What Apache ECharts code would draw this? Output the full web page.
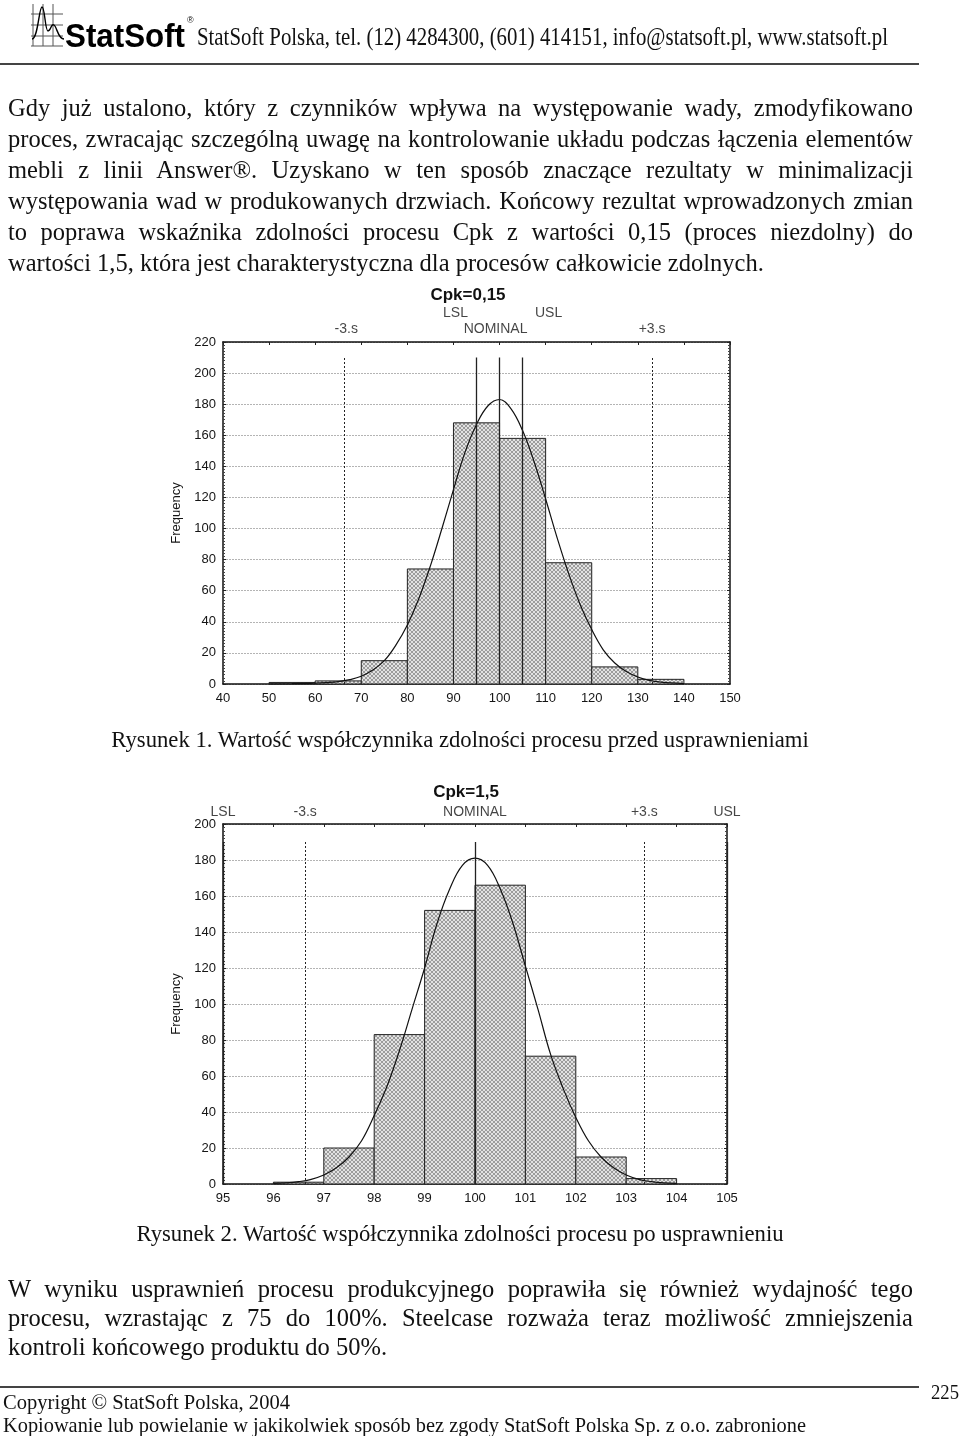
<!DOCTYPE html>
<html>
<head>
<meta charset="utf-8">
<script src="https://cdn.jsdelivr.net/npm/echarts@6.0.0/dist/echarts.min.js"></script>
<style>
html,body{margin:0;padding:0;background:#fff;}
#page{position:relative;width:960px;height:1436px;overflow:hidden;background:#fff;}
#chart{position:absolute;left:0;top:0;width:960px;height:1436px;}
.t{position:absolute;font-family:"Liberation Serif","Times New Roman",serif;color:#111;white-space:nowrap;z-index:2;}
.ln{position:absolute;left:8px;width:905px;font-family:"Liberation Serif","Times New Roman",serif;font-size:24.5px;line-height:30px;height:30px;color:#111;z-index:2;white-space:nowrap;}
.ln.j{text-align:justify;text-align-last:justify;white-space:normal;}
.cap{position:absolute;left:0;width:920px;text-align:center;font-family:"Liberation Serif","Times New Roman",serif;font-size:22.7px;line-height:30px;color:#111;z-index:2;}
.fit{transform-origin:0 0;}
.rule{position:absolute;left:0;width:919px;height:2px;background:#444;z-index:2;}
</style>
</head>
<body>
<div id="page">
  <div id="chart"></div>

  <!-- header -->
  <svg style="position:absolute;left:31px;top:3px;z-index:2" width="34" height="44" viewBox="0 0 34 44">
    <g stroke="#555" stroke-width="1" fill="none">
      <line x1="2" y1="1" x2="2" y2="43"/>
      <line x1="12" y1="1" x2="12" y2="43"/>
      <line x1="22" y1="1" x2="22" y2="43"/>
      <line x1="0" y1="11" x2="32" y2="11"/>
      <line x1="0" y1="22" x2="32" y2="22"/>
      <line x1="0" y1="33" x2="32" y2="33"/>
      <line x1="0" y1="43" x2="32" y2="43"/>
    </g>
    <path d="M1 36 C7 36, 8 4, 11 4 C14 4, 14 28, 17 28 C20 28, 20 20, 23 22 C26 24, 27 36, 33 36" fill="none" stroke="#000" stroke-width="1.4"/>
  </svg>
  <div id="brand" class="t fit" style="left:65px;top:18px;font-family:'Liberation Sans',Arial,sans-serif;font-weight:bold;font-size:34px;line-height:34px;color:#000;" data-w="120">StatSoft</div>
  <div class="t" style="left:187px;top:16px;font-family:'Liberation Sans',Arial,sans-serif;font-size:9px;line-height:9px;">®</div>
  <div id="htext" class="t fit" style="left:197px;top:24px;font-size:25px;line-height:25px;" data-w="691">StatSoft Polska, tel. (12) 4284300, (601) 414151, info@statsoft.pl, www.statsoft.pl</div>
  <div class="rule" style="top:63px;"></div>

  <!-- paragraph 1 -->
  <div class="ln j" style="top:93px;">Gdy już ustalono, który z czynników wpływa na występowanie wady, zmodyfikowano</div>
  <div class="ln j" style="top:124px;">proces, zwracając szczególną uwagę na kontrolowanie układu podczas łączenia elementów</div>
  <div class="ln j" style="top:155px;">mebli z linii Answer®. Uzyskano w ten sposób znaczące rezultaty w minimalizacji</div>
  <div class="ln j" style="top:186px;">występowania wad w produkowanych drzwiach. Końcowy rezultat wprowadzonych zmian</div>
  <div class="ln j" style="top:217px;">to poprawa wskaźnika zdolności procesu Cpk z wartości 0,15 (proces niezdolny) do</div>
  <div class="ln" style="top:248px;">wartości 1,5, która jest charakterystyczna dla procesów całkowicie zdolnych.</div>

  <div class="cap" style="top:725px;">Rysunek 1. Wartość współczynnika zdolności procesu przed usprawnieniami</div>
  <div class="cap" style="top:1219px;">Rysunek 2. Wartość współczynnika zdolności procesu po usprawnieniu</div>

  <!-- paragraph 2 -->
  <div class="ln j" style="top:1274px;">W wyniku usprawnień procesu produkcyjnego poprawiła się również wydajność tego</div>
  <div class="ln j" style="top:1303px;">procesu, wzrastając z 75 do 100%. Steelcase rozważa teraz możliwość zmniejszenia</div>
  <div class="ln" style="top:1332px;">kontroli końcowego produktu do 50%.</div>

  <!-- footer -->
  <div class="rule" style="top:1386px;"></div>
  <div class="t fit" style="left:931px;top:1381px;font-size:22px;line-height:22px;" data-w="28">225</div>
  <div class="t fit" style="left:3px;top:1391px;font-size:22px;line-height:22px;" data-w="287">Copyright © StatSoft Polska, 2004</div>
  <div class="t fit" style="left:3px;top:1414px;font-size:22px;line-height:22px;" data-w="803">Kopiowanie lub powielanie w jakikolwiek sposób bez zgody StatSoft Polska Sp. z o.o. zabronione</div>
</div>

<script>
// ---------------- DATA ----------------
// Figure 1 (Cpk = 0,15)
var title1 = 'Cpk=0,15';
var binEdges1 = [50, 60, 70, 80, 90, 100, 110, 120, 130, 140];
var counts1 = [1, 2, 15, 74, 168, 158, 78, 11, 3];
var curveX1 = [50, 55, 60, 62.5, 65, 67.5, 70, 72.5, 75, 77.5, 80, 82.5, 85, 87.5, 90, 92.5, 95, 97.5, 100, 102.5, 105, 107.5, 110, 112.5, 115, 117.5, 120, 122.5, 125, 127.5, 130, 132.5, 135, 140];
var curveY1 = [0.1, 0.2, 0.5, 0.9, 1.5, 2.8, 5, 9, 15, 25, 38, 55, 76, 100, 125, 149, 167, 179, 183, 177, 163, 143, 119, 94, 71, 51, 35, 22, 13.5, 8, 4.5, 2.3, 1.2, 0.3];
var specNames1 = ['LSL', 'NOMINAL', 'USL'];
var specValues1 = [95, 100, 105];
var sigmaNames1 = ['-3.s', '+3.s'];
var sigmaValues1 = [66.3, 133.1];
var xTicks1 = {min: 40, max: 150, step: 10};
var yTicks1 = {min: 0, max: 220, step: 20};

// Figure 2 (Cpk = 1,5)
var title2 = 'Cpk=1,5';
var binEdges2 = [96, 97, 98, 99, 100, 101, 102, 103, 104];
var counts2 = [1, 20, 83, 152, 166, 71, 15, 3];
var curveX2 = [96, 96.25, 96.5, 96.75, 97, 97.25, 97.5, 97.75, 98, 98.25, 98.5, 98.75, 99, 99.25, 99.5, 99.75, 100, 100.25, 100.5, 100.75, 101, 101.25, 101.5, 101.75, 102, 102.25, 102.5, 102.75, 103, 103.25, 103.5, 103.75, 104];
var curveY2 = [0.3, 0.6, 1.3, 2.6, 5, 9, 15, 24, 38, 54, 74, 97, 120, 145, 164, 177, 181, 177, 164, 145, 121, 97, 72, 53, 37, 24, 15, 9, 5, 2.6, 1.3, 0.6, 0.3];
var specNames2 = ['LSL', 'NOMINAL', 'USL'];
var specValues2 = [95, 100, 105];
var sigmaNames2 = ['-3.s', '+3.s'];
var sigmaValues2 = [96.63, 103.36];
var xTicks2 = {min: 95, max: 105, step: 1};
var yTicks2 = {min: 0, max: 200, step: 20};

// ---------------- text fitting (condensed header/footer fonts) ----------------
document.querySelectorAll('.fit').forEach(function (el) {
  var target = parseFloat(el.getAttribute('data-w'));
  var w = el.getBoundingClientRect().width;
  if (w > 0) el.style.transform = 'scaleX(' + (target / w) + ')';
});

// ---------------- chart ----------------
var hatch = document.createElement('canvas');
hatch.width = 4; hatch.height = 4;
(function () {
  var g = hatch.getContext('2d');
  g.fillStyle = '#e2e2e2'; g.fillRect(0, 0, 4, 4);
  g.fillStyle = '#9c9c9c';
  for (var i = 0; i < 4; i++) { g.fillRect(i, i, 1, 1); g.fillRect(3 - i, i, 1, 1); }
})();

var FONT = "'Liberation Sans', Arial, sans-serif";
var TXT = '#151515';
var grids = [
  {left: 223, top: 342, width: 507, height: 342},
  {left: 223, top: 824, width: 504, height: 360}
];

function xAxes(gi, t) {
  var line = {show: true, onZero: false, lineStyle: {color: '#111', width: 1.5}};
  return [
    {gridIndex: gi, type: 'value', position: 'bottom', min: t.min, max: t.max, interval: t.step,
     axisLine: line, axisTick: {show: false},
     axisLabel: {color: TXT, fontSize: 13, fontFamily: FONT, margin: 8},
     splitLine: {show: false}},
    {gridIndex: gi, type: 'value', position: 'top', min: t.min, max: t.max, interval: t.step,
     axisLine: line, axisTick: {show: true, inside: true, length: 3, lineStyle: {color: '#222'}},
     axisLabel: {show: false}, splitLine: {show: false}}
  ];
}
function yAxes(gi, t) {
  var line = {show: true, onZero: false, lineStyle: {color: '#111', width: 1.5}};
  var tick = {show: true, inside: true, length: 3, lineStyle: {color: '#222'}};
  var minor = {show: true, splitNumber: 10, length: 2, lineStyle: {color: '#444'}};
  return [
    {gridIndex: gi, type: 'value', position: 'left', min: t.min, max: t.max, interval: t.step,
     axisLine: line, axisTick: tick, minorTick: minor,
     axisLabel: {color: TXT, fontSize: 13, fontFamily: FONT, margin: 7},
     splitLine: {show: true, lineStyle: {color: '#b4b4b4', width: 1, type: [2, 1]}},
     name: 'Frequency', nameLocation: 'middle', nameGap: 33,
     nameTextStyle: {color: TXT, fontSize: 13, fontFamily: FONT}},
    {gridIndex: gi, type: 'value', position: 'right', min: t.min, max: t.max, interval: t.step,
     axisLine: line, axisTick: tick, minorTick: minor,
     axisLabel: {show: false}, splitLine: {show: false}}
  ];
}

function histSeries(ai, edges, counts) {
  var data = counts.map(function (c, i) { return [edges[i], edges[i + 1], c]; });
  return {
    type: 'custom', xAxisIndex: ai, yAxisIndex: ai, z: 2, silent: true,
    data: data, encode: {x: [0, 1], y: 2},
    renderItem: function (params, api) {
      var p0 = api.coord([api.value(0), api.value(2)]);
      var p1 = api.coord([api.value(1), 0]);
      return {
        type: 'rect',
        shape: {x: p0[0], y: p0[1], width: p1[0] - p0[0], height: p1[1] - p0[1]},
        style: {fill: {image: hatch, repeat: 'repeat'}, stroke: '#222', lineWidth: 1}
      };
    }
  };
}

function curveSeries(ai, xs, ys) {
  return {
    type: 'line', xAxisIndex: ai, yAxisIndex: ai, z: 4, silent: true,
    data: xs.map(function (x, i) { return [x, ys[i]]; }),
    smooth: 0.4, showSymbol: false, symbol: 'none',
    lineStyle: {color: '#111', width: 1.2}
  };
}

function limitSeries(ai, specVals, sigmaVals, top) {
  var d = [];
  specVals.forEach(function (v) {
    d.push([{coord: [v, 0], lineStyle: {type: 'solid', color: '#222', width: 1.3}}, {coord: [v, top]}]);
  });
  sigmaVals.forEach(function (v) {
    d.push([{coord: [v, 0], lineStyle: {type: [2, 2], color: '#222', width: 1}}, {coord: [v, top]}]);
  });
  return {
    type: 'line', xAxisIndex: ai, yAxisIndex: ai, data: [], z: 5, silent: true,
    markLine: {silent: true, symbol: ['none', 'none'], animation: false, label: {show: false}, data: d}
  };
}

function labelSeries(ai, yTop, items) {
  return {
    type: 'scatter', xAxisIndex: ai, yAxisIndex: ai, clip: false, silent: true,
    symbolSize: 0, z: 6,
    data: items.map(function (it) {
      return {
        value: [it.x, yTop],
        label: {show: true, position: 'inside', formatter: it.name, offset: it.off,
                color: TXT, fontSize: 14, fontFamily: FONT}
      };
    })
  };
}

var xAx = xAxes(0, xTicks1).concat(xAxes(1, xTicks2));
var yAx = yAxes(0, yTicks1).concat(yAxes(1, yTicks2));
// axis indices: grid0 -> x0 (bottom), x1 (top), y0 (left), y1 (right); grid1 -> x2, x3, y2, y3

var labels1 = [
  {name: specNames1[0], x: specValues1[0], off: [-21, -29]},
  {name: specNames1[1], x: specValues1[1], off: [-4, -13]},
  {name: specNames1[2], x: specValues1[2], off: [26, -29]},
  {name: sigmaNames1[0], x: sigmaValues1[0], off: [2, -13]},
  {name: sigmaNames1[1], x: sigmaValues1[1], off: [0, -13]}
];
var labels2 = [
  {name: specNames2[0], x: specValues2[0], off: [0, -12]},
  {name: specNames2[1], x: specValues2[1], off: [0, -12]},
  {name: specNames2[2], x: specValues2[2], off: [0, -12]},
  {name: sigmaNames2[0], x: sigmaValues2[0], off: [0, -12]},
  {name: sigmaNames2[1], x: sigmaValues2[1], off: [0, -12]}
];

var option = {
  backgroundColor: '#fff',
  animation: false,
  title: [
    {text: title1, left: 463, top: 282, textAlign: 'center',
     textStyle: {fontSize: 17, fontWeight: 'bold', color: '#111', fontFamily: FONT}},
    {text: title2, left: 461, top: 779, textAlign: 'center',
     textStyle: {fontSize: 17, fontWeight: 'bold', color: '#111', fontFamily: FONT}}
  ],
  grid: grids,
  xAxis: xAx,
  yAxis: yAx,
  series: [
    histSeries(0, binEdges1, counts1),
    curveSeries(0, curveX1, curveY1),
    limitSeries(0, specValues1, sigmaValues1, 210),
    labelSeries(0, yTicks1.max, labels1),
    histSeries(2, binEdges2, counts2),
    curveSeries(2, curveX2, curveY2),
    limitSeries(2, specValues2, sigmaValues2, 190),
    labelSeries(2, yTicks2.max, labels2)
  ]
};
var chart = echarts.init(document.getElementById('chart'), null, {renderer: 'canvas'});
chart.setOption(option);
</script>
</body>
</html>
